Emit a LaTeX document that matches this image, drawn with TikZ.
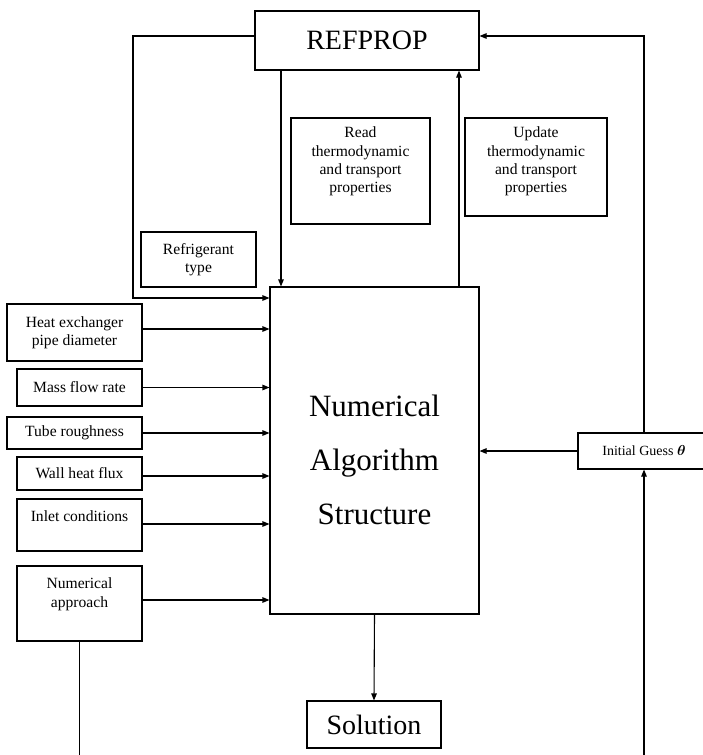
\documentclass[tikz,border=0pt]{standalone}
\usepackage{amsmath}
\usepackage{fontspec}
\setmainfont{Liberation Serif}
\usetikzlibrary{arrows.meta}

\begin{document}
\begin{tikzpicture}[x=1pt,y=-1pt,line width=1.1pt,
    >={Triangle[length=7pt,width=5.5pt]},
    blk/.style={draw,inner sep=0pt,font=\fontsize{15.6}{18.3}\selectfont,align=center},
    toptxt/.style={anchor=north,inner sep=0pt,yshift=-9pt,font=\fontsize{15.6}{18.3}\selectfont,align=center}]
          \useasboundingbox (0,0) rectangle (703,755);

          \node[blk,minimum width=224,minimum height=59,font=\fontsize{28}{32}\selectfont] (refprop) at (367,40.5) {REFPROP};
          \node[blk,minimum width=209,minimum height=327,
            label={[inner sep=0pt,yshift=-9.5pt,align=center,font=\fontsize{31}{54}\selectfont]center:Numerical\\Algorithm\\Structure}] (main) at (374.5,450.5) {};
          \node[blk,minimum width=139,minimum height=106,label={[toptxt]north:Read\\thermodynamic\\and transport\\properties}] (read) at (360.5,171) {};
          \node[blk,minimum width=142,minimum height=98,label={[toptxt]north:Update\\thermodynamic\\and transport\\properties}] (update) at (536,167) {};
          \node[blk,minimum width=115,minimum height=55] (refrig) at (198.5,259.5) {Refrigerant\\type};

          \node[blk,minimum width=135,minimum height=57] (hx) at (74.5,332.5) {Heat exchanger\\pipe diameter};
          \node[blk,minimum width=125,minimum height=37] (mass) at (79.5,387.5) {Mass flow rate};
          \node[blk,minimum width=135,minimum height=32] (tube) at (74.5,433) {Tube roughness};
          \node[blk,minimum width=125,minimum height=33] (wall) at (79.5,473.5) {Wall heat flux};
          \node[blk,minimum width=125,minimum height=52,label={[toptxt,yshift=-3pt]north:Inlet conditions}] (inlet) at (79.5,525) {};
          \node[blk,minimum width=125,minimum height=75,label={[toptxt,yshift=-3pt]north:Numerical\\approach}] (numap) at (79.5,603.5) {};

          \node[blk,minimum width=132,minimum height=36,font=\fontsize{14}{16}\selectfont] (guess) at (644,451) {Initial Guess $\boldsymbol{\theta}$};
          \node[blk,minimum width=134,minimum height=47,font=\fontsize{28}{32}\selectfont] (sol) at (374,724.5) {Solution};

          \coordinate (nbot) at (numap.south |- 0,760);
          \coordinate (gbot) at (guess.south |- 0,760);

          \draw[->] ([yshift=4.5pt]refprop.west) -| (133,298) -- (main.west |- 0,298);
          \draw[->] (refprop.south -| 281,0) -- (main.north -| 281,0);
          \draw[->] (main.north -| 459,0) -- (refprop.south -| 459,0);
          \draw[->] (guess.north) |- ([yshift=4.5pt]refprop.east);
          \draw[->] (guess.west) -- (guess.west -| main.east);
          \draw[->] (gbot) -- (guess.south);
          \draw (numap.south) -- (nbot);
          \draw[->] (main.south) -- (sol.north);
          \foreach \n/\d in {hx/3.5,mass/0,tube/0,wall/-2.5,inlet/1,numap/3.5}
            \draw[->] ([yshift=\d pt]\n.east) -- ([yshift=\d pt]\n.east -| main.west);
        \end{tikzpicture}
\end{document}
